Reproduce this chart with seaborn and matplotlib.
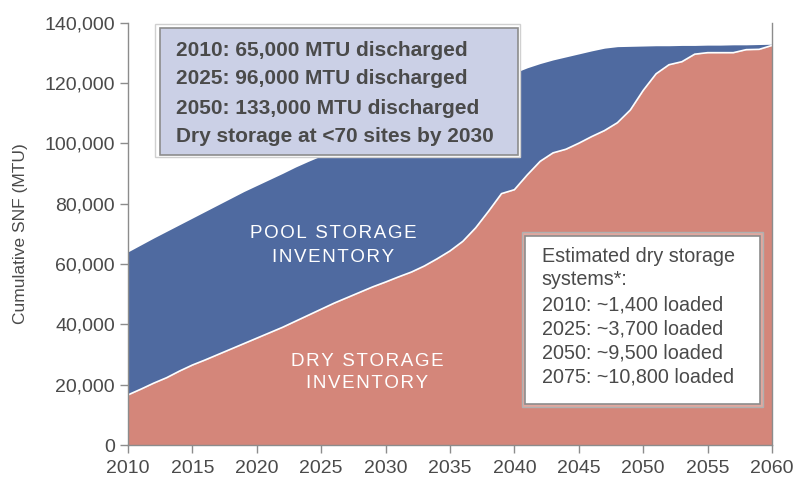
import matplotlib
matplotlib.use('Agg')
import matplotlib.pyplot as plt
from matplotlib.patches import Rectangle
from matplotlib.ticker import FuncFormatter
import seaborn as sns
import pandas as pd

# data (thousands of MTU)
years = list(range(2010, 2061))
total_k = [64.0, 66.3, 68.6, 70.8, 73.0, 75.2, 77.4, 79.6, 81.8, 84.0,
           86.0, 88.0, 90.0, 92.1, 94.0, 95.8, 97.6, 99.4, 101.2, 103.0,
           104.8, 106.6, 108.4, 110.2, 112.0, 113.8, 115.6, 117.4, 119.2, 121.0,
           123.3, 125.0, 126.4, 127.6, 128.6, 129.6, 130.6, 131.5, 132.0, 132.1,
           132.2, 132.3, 132.3, 132.4, 132.4, 132.5, 132.5, 132.6, 132.6, 132.7,
           132.8]
dry_k = [16.6, 18.5, 20.5, 22.3, 24.5, 26.5, 28.2, 30.0, 31.8, 33.6,
         35.4, 37.2, 39.0, 41.0, 43.0, 45.0, 47.0, 48.8, 50.6, 52.4,
         54.0, 55.7, 57.3, 59.3, 61.7, 64.3, 67.5, 72.0, 77.5, 83.3,
         84.6, 89.5, 94.0, 96.8, 98.0, 100.0, 102.2, 104.2, 106.8, 111.0,
         117.5, 123.0, 126.0, 127.0, 129.5, 130.0, 130.0, 130.0, 131.0, 131.1,
         132.4]

facts = ['2010: 65,000 MTU discharged',
         '2025: 96,000 MTU discharged',
         '2050: 133,000 MTU discharged',
         'Dry storage at <70 sites by 2030']
systems_head = ['Estimated dry storage', 'systems*:']
systems = ['2010: ~1,400 loaded',
           '2025: ~3,700 loaded',
           '2050: ~9,500 loaded',
           '2075: ~10,800 loaded']

BLUE = '#4F6AA0'
RED = '#D4867A'
LAV = '#CBD0E6'
TXT = '#4A4A4A'
GRID = '#8C8C8C'

W, H = 796, 483


def fx(x):
    return x / W


def fy(y):
    return 1 - y / H


def spaced(s):
    return '\u200a'.join(list(s))


def main():
    df = pd.DataFrame({'Year': years,
                       'Total': [v * 1000 for v in total_k],
                       'Dry': [v * 1000 for v in dry_k]})

    sns.set_theme(style='white')
    plt.rcParams['font.family'] = ['Liberation Sans', 'DejaVu Sans']

    fig = plt.figure(figsize=(W / 100, H / 100), dpi=100)
    ax = fig.add_axes([fx(128), fy(445), (772 - 128) / W, (445 - 22.5) / H])

    ax.fill_between(df['Year'], df['Dry'], df['Total'], color=BLUE, lw=0)
    ax.fill_between(df['Year'], 0, df['Dry'], color=RED, lw=0)
    sns.lineplot(x='Year', y='Dry', data=df, ax=ax, color='white', lw=1.2)

    ax.set_xlim(2010, 2060)
    ax.set_ylim(0, 140000)
    ax.set_xticks(range(2010, 2061, 5))
    ax.set_yticks(range(0, 140001, 20000))
    ax.yaxis.set_major_formatter(FuncFormatter(lambda v, p: f'{int(v):,}'))
    ax.tick_params(axis='both', labelsize=14, labelcolor=TXT, color=GRID,
                   length=6, width=1, direction='out', left=True, bottom=True)
    ax.tick_params(axis='x', pad=5)
    ax.set_xlabel('')
    ax.set_ylabel('Cumulative SNF (MTU)', fontsize=12.5, color=TXT, labelpad=12)
    for side in ['left', 'bottom', 'right']:
        ax.spines[side].set_color(GRID)
        ax.spines[side].set_linewidth(1)
    ax.spines['top'].set_visible(False)

    # fact box
    ax.add_patch(Rectangle((fx(155), fy(157)), (520 - 155) / W, (157 - 24) / H,
                           transform=fig.transFigure, facecolor='white',
                           edgecolor='#D0D0D0', lw=1, clip_on=False, zorder=5))
    ax.add_patch(Rectangle((fx(160), fy(155)), (518 - 160) / W, (155 - 28) / H,
                           transform=fig.transFigure, facecolor=LAV,
                           edgecolor=GRID, lw=1.2, clip_on=False, zorder=6))
    for line, yc in zip(facts, [50, 79, 108, 137]):
        fig.text(fx(176), fy(yc), line, fontsize=15, fontweight='bold',
                 color=TXT, ha='left', va='center', zorder=7)

    # dry storage systems box
    ax.add_patch(Rectangle((fx(521.7), fy(406.7)), (762.7 - 521.7) / W,
                           (406.7 - 231.7) / H, transform=fig.transFigure,
                           facecolor='#E0A89F', edgecolor='#B0B0B0', lw=1,
                           clip_on=False, zorder=5))
    ax.add_patch(Rectangle((fx(525), fy(404)), (760 - 525) / W, (404 - 235.7) / H,
                           transform=fig.transFigure, facecolor='white',
                           edgecolor=GRID, lw=1.2, clip_on=False, zorder=6))
    for line, yc in zip(systems_head + systems,
                        [256.7, 279.3, 305, 329, 353.3, 376.7]):
        fig.text(fx(541.7), fy(yc), line, fontsize=14.2, color=TXT,
                 ha='left', va='center', zorder=7)

    # area labels
    fig.text(fx(333), fy(234), spaced('POOL STORAGE'), fontsize=13.5,
             color='white', ha='center', va='center')
    fig.text(fx(333), fy(258), spaced('INVENTORY'), fontsize=13.5,
             color='white', ha='center', va='center')
    fig.text(fx(367), fy(361), spaced('DRY STORAGE'), fontsize=13.5,
             color='white', ha='center', va='center')
    fig.text(fx(367), fy(384), spaced('INVENTORY'), fontsize=13.5,
             color='white', ha='center', va='center')

    fig.savefig('out.png', dpi=100)
    plt.close(fig)


if __name__ == '__main__':
    main()
